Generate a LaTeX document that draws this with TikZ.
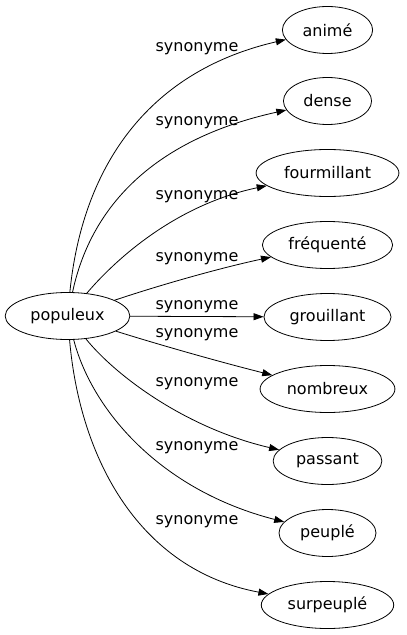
\documentclass[tikz,border=0pt]{standalone}
\usepackage{fontspec}
\setmainfont{DejaVu Sans}
\usetikzlibrary{positioning,shapes.geometric}
\usetikzlibrary{arrows.meta}

\begin{document}
\begin{tikzpicture}[
	  x=1bp, y=-1bp,
	  font=\fontsize{16bp}{19bp}\selectfont,
	  %style for arrows
	  arrw/.style={line width=0.8bp, ->, >={Triangle[length=10bp,width=7bp]}},
      % style for the words
      wd/.style={ellipse, draw=black, line width=0.8bp, inner xsep=7bp, minimum height=47bp},
      % style for the edge labels
      lbl/.style={inner sep=0pt}]

      \useasboundingbox (0,0) rectangle (406,635);

      \node[wd](populeux) at (67.5,316){populeux};

      \node[wd](anime) at (327.5,30){animé};
      \node[wd](dense) at (327.5,101){dense};
      \node[wd](fourmillant) at (327.5,173){fourmillant};
      \node[wd](frequente) at (327.5,245){fréquenté};
      \node[wd](grouillant) at (327.5,317){grouillant};
      \node[wd](nombreux) at (327.5,389){nombreux};
      \node[wd](passant) at (327.5,461){passant};
      \node[wd](peuple) at (327.5,533){peuplé};
      \node[wd](surpeuple) at (327.5,605){surpeuplé};

      \draw[arrw] (populeux) .. controls (82,170) and (145,72) .. (anime);
      \draw[arrw] (populeux) .. controls (90,210) and (150,140) .. (dense);
      \draw[arrw] (populeux) .. controls (115,260) and (175,205) .. (fourmillant);
      \draw[arrw] (populeux) .. controls (160,285) and (220,268) .. (frequente);
      \draw[arrw] (populeux) -- (grouillant);
      \draw[arrw] (populeux) .. controls (160,345) and (220,362) .. (nombreux);
      \draw[arrw] (populeux) .. controls (115,375) and (185,428) .. (passant);
      \draw[arrw] (populeux) .. controls (92,410) and (160,490) .. (peuple);
      \draw[arrw] (populeux) .. controls (80,460) and (140,570) .. (surpeuple);

      \node[lbl](l1) at (197,49){synonyme};
      \node[lbl](l2) at (197,123){synonyme};
      \node[lbl](l3) at (197,197){synonyme};
      \node[lbl](l4) at (197,259){synonyme};
      \node[lbl](l5) at (197,307){synonyme};
      \node[lbl](l6) at (197,335){synonyme};
      \node[lbl](l7) at (197,384){synonyme};
      \node[lbl](l8) at (197,448){synonyme};
      \node[lbl](l9) at (197,522){synonyme};

\end{tikzpicture}
\end{document}
